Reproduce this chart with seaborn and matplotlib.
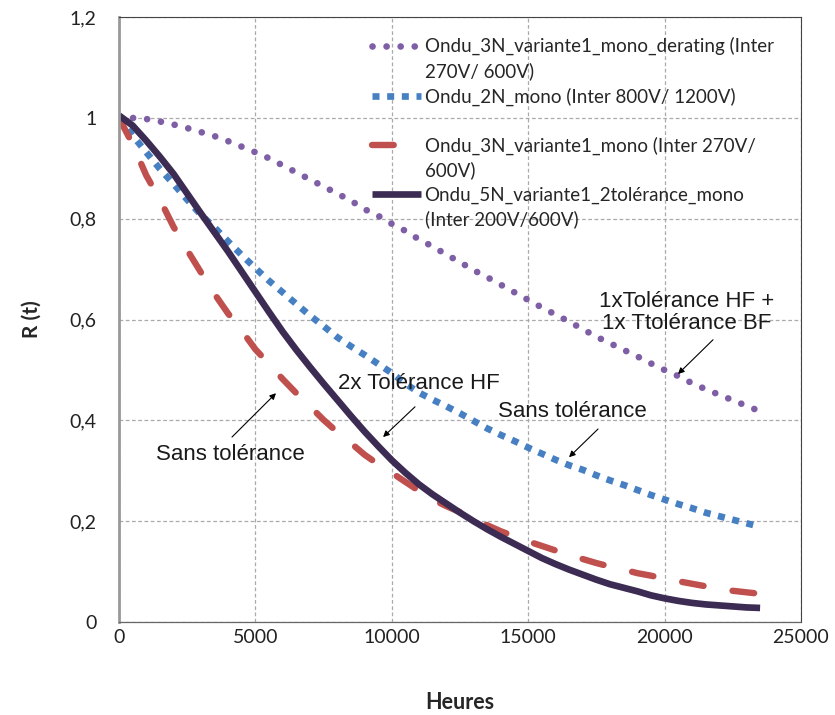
import pandas as pd
import seaborn as sns
import matplotlib.pyplot as plt
from matplotlib.lines import Line2D
from matplotlib.ticker import FuncFormatter

# hours axis, one reading every 500 h
heures = list(range(0, 23501, 500))

# Ondu_3N_variante1_mono_derating
r_derating = [1.0, 1.0, 0.998, 0.993, 0.987, 0.980, 0.972, 0.964, 0.954, 0.943,
              0.932, 0.920, 0.906, 0.892, 0.878, 0.864, 0.850, 0.836, 0.819, 0.806,
              0.790, 0.776, 0.759, 0.745, 0.729, 0.714, 0.698, 0.684, 0.669, 0.654,
              0.639, 0.624, 0.610, 0.596, 0.581, 0.566, 0.553, 0.540, 0.527, 0.513,
              0.500, 0.488, 0.474, 0.462, 0.451, 0.440, 0.429, 0.418]
# Ondu_2N_mono
r_2n = [1.0, 0.965, 0.932, 0.899, 0.869, 0.838, 0.808, 0.783, 0.755, 0.728,
        0.702, 0.677, 0.654, 0.631, 0.608, 0.587, 0.565, 0.547, 0.530, 0.512,
        0.494, 0.473, 0.455, 0.441, 0.428, 0.414, 0.399, 0.384, 0.371, 0.359,
        0.346, 0.334, 0.322, 0.311, 0.302, 0.291, 0.281, 0.272, 0.262, 0.252,
        0.243, 0.234, 0.226, 0.217, 0.210, 0.203, 0.196, 0.189]
# Ondu_3N_variante1_mono
r_3n = [1.0, 0.948, 0.886, 0.838, 0.784, 0.738, 0.694, 0.651, 0.612, 0.578,
        0.541, 0.512, 0.482, 0.454, 0.428, 0.401, 0.377, 0.355, 0.332, 0.313,
        0.296, 0.278, 0.260, 0.243, 0.230, 0.218, 0.205, 0.192, 0.180, 0.170,
        0.160, 0.151, 0.142, 0.133, 0.125, 0.117, 0.110, 0.104, 0.097, 0.092,
        0.086, 0.081, 0.076, 0.071, 0.066, 0.062, 0.059, 0.056]
# Ondu_5N_variante1_2tolerance_mono
r_5n = [1.005, 0.985, 0.955, 0.923, 0.889, 0.850, 0.811, 0.773, 0.735, 0.695,
        0.655, 0.615, 0.576, 0.540, 0.506, 0.473, 0.441, 0.409, 0.378, 0.349,
        0.321, 0.296, 0.273, 0.253, 0.235, 0.217, 0.200, 0.184, 0.169, 0.155,
        0.141, 0.127, 0.115, 0.104, 0.094, 0.084, 0.075, 0.068, 0.061, 0.053,
        0.047, 0.042, 0.038, 0.035, 0.033, 0.031, 0.029, 0.028]

# legend text, one row per line as in the original
leg_rows = [("d", "Ondu_3N_variante1_mono_derating (Inter"), (None, "270V/ 600V)"),
            ("n2", "Ondu_2N_mono (Inter 800V/ 1200V)"), (None, " "),
            ("n3", "Ondu_3N_variante1_mono (Inter 270V/"), (None, "600V)"),
            ("n5", "Ondu_5N_variante1_2tolérance_mono"), (None, "(Inter 200V/600V)")]

df = pd.DataFrame({"Heures": heures, "d": r_derating, "n2": r_2n, "n3": r_3n, "n5": r_5n})

sns.set_style("white")
plt.rcParams["font.family"] = ["Lato", "DejaVu Sans"]

fig = plt.figure(figsize=(8.35, 7.15), dpi=100)
ax = fig.add_axes([0.1425, 0.130, 0.8168, 0.846])

styles = {
    "d": dict(color="#7E5FA6", lw=4.8, ls=(0, (0.01, 2.1)), cap="round"),
    "n2": dict(color="#4680C2", lw=4.8, ls=(0, (1.05, 1.15)), cap="butt"),
    "n3": dict(color="#C0504D", lw=4.6, ls=(0, (3.4, 4.6)), cap="round"),
    "n5": dict(color="#3C2B52", lw=4.8, ls="-", cap="round"),
}
lines = {}
for key in ["d", "n2", "n3", "n5"]:
    st = styles[key]
    sns.lineplot(data=df, x="Heures", y=key, ax=ax, color=st["color"], lw=st["lw"])
    ln = ax.lines[-1]
    ln.set_linestyle(st["ls"])
    ln.set_dash_capstyle(st["cap"])
    ln.set_solid_capstyle("butt")
    lines[key] = ln

ax.set_xlim(0, 25000)
ax.set_ylim(0, 1.2)
ax.set_xticks(range(0, 25001, 5000))
ax.set_yticks([0, 0.2, 0.4, 0.6, 0.8, 1.0, 1.2])
ax.yaxis.set_major_formatter(FuncFormatter(lambda v, p: ("%g" % round(v, 1)).replace(".", ",")))
ax.tick_params(axis="x", labelsize=14, pad=5, length=0, colors="#222222")
ax.tick_params(axis="y", labelsize=14, pad=16, length=0, colors="#222222")
ax.grid(True, color="#aaaaaa", linestyle=(0, (3, 2)), lw=0.9)

for s in ["top", "right"]:
    ax.spines[s].set_color("#444444")
    ax.spines[s].set_linewidth(0.8)
ax.spines["left"].set_color("#999999")
ax.spines["left"].set_linewidth(2)
ax.spines["bottom"].set_color("#666666")
ax.spines["bottom"].set_linestyle((0, (1, 1)))
ax.spines["bottom"].set_linewidth(0.9)

ax.set_xlabel("Heures", fontsize=15.5, fontweight="bold", labelpad=33)
ax.set_ylabel("R (t)", fontsize=15, fontweight="bold", labelpad=20)

handles, texts = [], []
for key, txt in leg_rows:
    if key is None:
        handles.append(Line2D([], [], color="none"))
    else:
        handles.append(lines[key])
    texts.append(txt)
ax.legend(handles, texts, loc="upper left", bbox_to_anchor=(0.371, 0.967), frameon=False,
          fontsize=13.5, handlelength=2.6, handletextpad=0.2, labelspacing=0.37,
          borderaxespad=0, borderpad=0)

afont = dict(fontsize=16, family=["Liberation Sans", "DejaVu Sans"], color="#1a1a1a",
             ha="center", va="center")
aprops = dict(arrowstyle="-|>", color="black", lw=0.8, mutation_scale=9, shrinkA=0, shrinkB=0)
ax.annotate("", xy=(20491, 0.492), xytext=(21774, 0.560), arrowprops=aprops)
ax.text(20821, 0.614, "1xTolérance HF +\n1x Ttolérance BF", linespacing=1.05, **afont)
ax.annotate("", xy=(9680, 0.367), xytext=(10850, 0.427), arrowprops=aprops)
ax.text(11000, 0.474, "2x Tolérance HF", **afont)
ax.annotate("", xy=(5755, 0.454), xytext=(4142, 0.367), arrowprops=aprops)
ax.text(4069, 0.333, "Sans tolérance", **afont)
ax.annotate("", xy=(16496, 0.327), xytext=(17560, 0.383), arrowprops=aprops)
ax.text(16606, 0.418, "Sans tolérance", **afont)

plt.savefig("out.png", dpi=100)
plt.close()
